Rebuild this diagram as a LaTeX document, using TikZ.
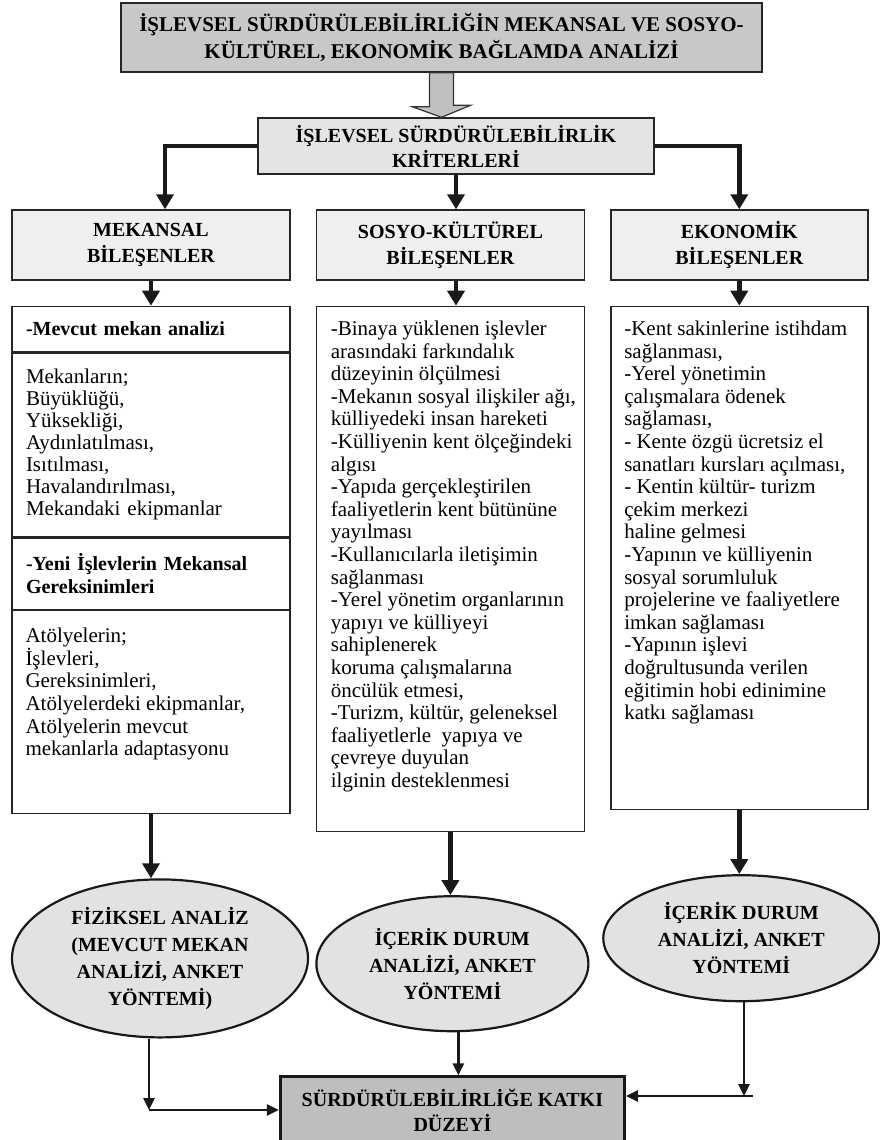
\documentclass[tikz,border=0pt]{standalone}
\usepackage{fontspec}
\setmainfont{Liberation Serif}
\usepackage{xcolor}
\usepackage{tikz}
\usetikzlibrary{shapes.geometric, arrows.meta, positioning}

\definecolor{ustgri}{HTML}{C8C8C8}
\definecolor{kritgri}{HTML}{E4E4E4}
\definecolor{bilgri}{HTML}{EFEFEF}
\definecolor{elipsgri}{HTML}{E2E2E2}
\definecolor{songri}{HTML}{BEBEBE}
\definecolor{okgri}{HTML}{C0C0C0}

\begin{document}
\begin{tikzpicture}[x=1pt, y=1pt]
		\tikzset{
			node distance=25pt and 25pt,
			anakutu/.style={rectangle, draw=black!85, line width=1.6pt, fill=ustgri, align=center,
			font=\fontsize{21}{27}\selectfont\bfseries},
			kriterkutu/.style={rectangle, draw=black!85, line width=1.4pt, fill=kritgri, align=center,
			font=\fontsize{20}{25}\selectfont\bfseries, minimum width=396pt, minimum height=56pt},
			bilesen/.style={rectangle, draw=black!85, line width=1.4pt, fill=bilgri, align=center,
			font=\fontsize{20}{26}\selectfont\bfseries, minimum height=70pt},
			bolum/.style={rectangle, draw=black!85, line width=1.4pt, fill=white, align=left,
			inner xsep=14pt, inner ysep=0pt, text width=250pt, font=\fontsize{21}{22}\selectfont},
			cerceve/.style={rectangle, draw=black!85, line width=1.4pt, fill=white},
			metin/.style={anchor=north west, align=left, inner sep=0pt, font=\fontsize{21}{22.6}\selectfont},
			yontem/.style={ellipse, draw=black!90, line width=2.2pt, fill=elipsgri, align=center, inner sep=1pt,
			font=\fontsize{20}{27}\selectfont\bfseries},
			sonkutu/.style={rectangle, draw=black!90, line width=3pt, fill=songri, align=center,
			font=\fontsize{20}{25}\selectfont\bfseries, minimum width=344pt, minimum height=67pt},
			bosok/.style={draw=black!80, line width=1.2pt, fill=okgri},
			kalinok/.style={-{Triangle[length=15pt,width=17pt]}, line width=4.5pt, black!90},
			inceok/.style={-{Triangle[length=12pt,width=11pt]}, line width=2.6pt, black!90}
		}
		\useasboundingbox (0,0) rectangle (880,-1140);

		\node[anakutu, minimum width=641pt, minimum height=69pt](ana) at (441.5,-37.5){İŞLEVSEL SÜRDÜRÜLEBİLİRLİĞİN MEKANSAL VE SOSYO-\\KÜLTÜREL, EKONOMİK BAĞLAMDA ANALİZİ};
		\node[kriterkutu](kriter) at (456,-146){İŞLEVSEL SÜRDÜRÜLEBİLİRLİK\\KRİTERLERİ};

		\node[bilesen, minimum width=278pt](mekansal) at (151,-245){MEKANSAL\\BİLEŞENLER};
		\node[bilesen, minimum width=268pt, right=of mekansal](sosyo){SOSYO-KÜLTÜREL\\BİLEŞENLER};
		\node[bilesen, minimum width=257pt, right=of sosyo](ekonomik){EKONOMİK\\BİLEŞENLER};

		% mekansal sutun
		\node[bolum, font=\fontsize{20}{23}\selectfont\bfseries, minimum height=45pt, below=of mekansal](mevcut){-Mevcut mekan analizi};
		\node[bolum, minimum height=184pt, below=0pt of mevcut](mekanlar){Mekanların;\\Büyüklüğü,\\Yüksekliği,\\Aydınlatılması,\\Isıtılması,\\Havalandırılması,\\Mekandaki ekipmanlar};
		\node[bolum, font=\fontsize{20}{23}\selectfont\bfseries, minimum height=71pt, below=0pt of mekanlar](yeni){-Yeni İşlevlerin Mekansal\\Gereksinimleri};
		\node[cerceve, minimum width=278pt, minimum height=203pt, below=0pt of yeni](atolye){};
		\node[metin](atolyemetin) at ([xshift=14pt,yshift=-18pt]atolye.north west){Atölyelerin;\\İşlevleri,\\Gereksinimleri,\\Atölyelerdeki ekipmanlar,\\Atölyelerin mevcut\\mekanlarla adaptasyonu};

		% sosyo-kulturel sutun
		\node[cerceve, minimum width=268pt, minimum height=525pt, below=of sosyo](soskutu){};
		\node[metin](sosmetin) at ([xshift=15pt,yshift=-15pt]soskutu.north west){-Binaya yüklenen işlevler\\arasındaki farkındalık\\düzeyinin ölçülmesi\\-Mekanın sosyal ilişkiler ağı,\\külliyedeki insan hareketi\\-Külliyenin kent ölçeğindeki\\algısı\\-Yapıda gerçekleştirilen\\faaliyetlerin kent bütününe\\yayılması\\-Kullanıcılarla iletişimin\\sağlanması\\-Yerel yönetim organlarının\\yapıyı ve külliyeyi\\sahiplenerek\\koruma çalışmalarına\\öncülük etmesi,\\-Turizm, kültür, geleneksel\\faaliyetlerle~ yapıya ve\\çevreye duyulan\\ilginin desteklenmesi};

		% ekonomik sutun
		\node[cerceve, minimum width=257pt, minimum height=503pt, below=of ekonomik](ekokutu){};
		\node[metin](ekometin) at ([xshift=14pt,yshift=-15pt]ekokutu.north west){-Kent sakinlerine istihdam\\sağlanması,\\-Yerel yönetimin\\çalışmalara ödenek\\sağlaması,\\- Kente özgü ücretsiz el\\sanatları kursları açılması,\\- Kentin kültür- turizm\\çekim merkezi\\haline gelmesi\\-Yapının ve külliyenin\\sosyal sorumluluk\\projelerine ve faaliyetlere\\imkan sağlaması\\-Yapının işlevi\\doğrultusunda verilen\\eğitimin hobi edinimine\\katkı sağlaması};

		\node[yontem, minimum width=296pt, minimum height=158pt, below=64pt of atolye, xshift=9pt](fiziksel){FİZİKSEL ANALİZ\\(MEVCUT MEKAN\\ANALİZİ, ANKET\\YÖNTEMİ)};
		\node[yontem, minimum width=272pt, minimum height=135pt, below=63pt of soskutu, xshift=2pt](icerik){İÇERİK DURUM\\ANALİZİ, ANKET\\YÖNTEMİ};
		\node[yontem, minimum width=276pt, minimum height=126pt, below=64pt of ekokutu, xshift=2pt](icerikeko){İÇERİK DURUM\\ANALİZİ, ANKET\\YÖNTEMİ};

		\node[sonkutu, below=43pt of icerik](sonuc){SÜRDÜRÜLEBİLİRLİĞE KATKI\\DÜZEYİ};

		% ana ok
		\draw[bosok]([xshift=-12pt]ana.south) -- ++(0,-34) -- ++(-17,0) -- (ana.south |- kriter.north) -- ++(29,12) -- ++(-17,0) -- ([xshift=12pt]ana.south) -- cycle;

		\draw[kalinok](kriter.west) -| ([xshift=14pt]mekansal.north);
		\draw[kalinok](kriter.south) -- (kriter.south |- sosyo.north);
		\draw[kalinok](kriter.east) -| (ekonomik.north);

		\draw[kalinok](mekansal.south) -- (mevcut.north);
		\draw[kalinok](kriter.south |- sosyo.south) -- (kriter.south |- soskutu.north);
		\draw[kalinok](ekonomik.south) -- (ekokutu.north);

		\draw[kalinok](atolye.south) -- (atolye.south |- fiziksel.north);
		\draw[kalinok](soskutu.south) -- (soskutu.south |- icerik.north);
		\draw[kalinok](ekokutu.south) -- (ekokutu.south |- icerikeko.north);

		\coordinate (solkose) at (149,-1110);
		\coordinate (sagkose) at (744,-1096);
		\draw[inceok](fiziksel.south -| solkose) -- (solkose);
		\draw[inceok](solkose) -- (sonuc.west |- solkose);
		\draw[inceok]([xshift=6pt]icerik.south) -- ([xshift=6pt]icerik.south |- sonuc.north);
		\draw[inceok](icerikeko.south -| sagkose) -- (sagkose);
		\draw[inceok]([xshift=9pt]sagkose) -- (sonuc.east |- sagkose);

	\end{tikzpicture}
\end{document}
